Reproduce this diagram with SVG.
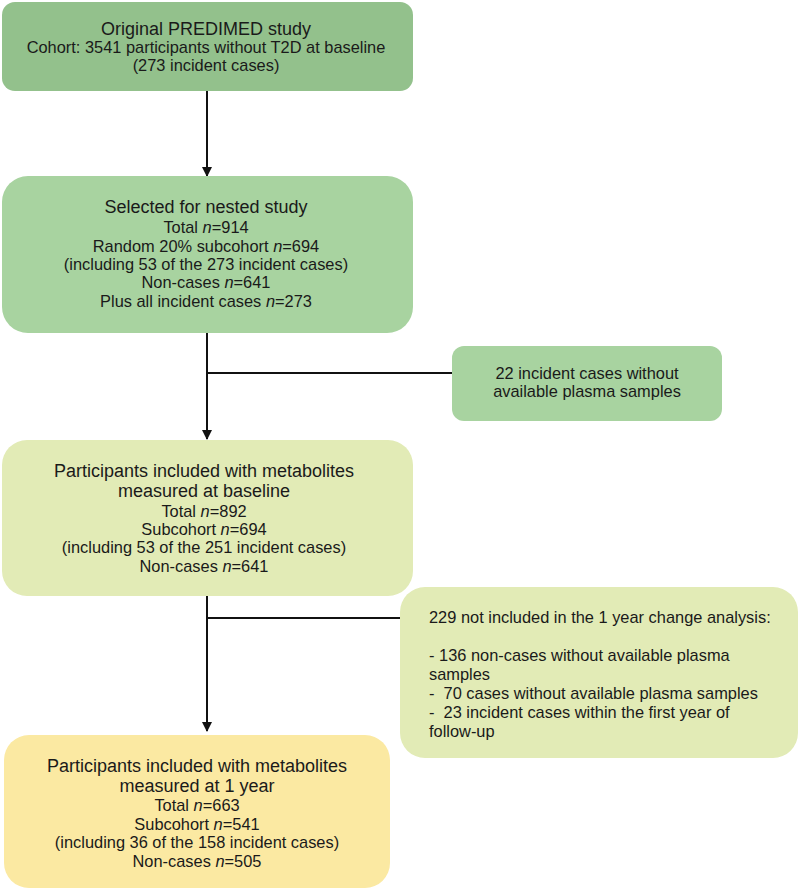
<svg xmlns="http://www.w3.org/2000/svg" width="800" height="890" viewBox="0 0 800 890">
<style>
text{font-family:"Liberation Sans",Arial,sans-serif;fill:#1a1a1a;font-size:16.4px}
.c{text-anchor:middle}
.t{font-size:18px}
.i{font-style:italic}
.dk{fill:#93c18c}
.gr{fill:#a8d3a0}
.yg{fill:#e2ebb6}
.ye{fill:#fbe9a2}
.ln{stroke:#111;stroke-width:2;fill:none}
</style>
<defs>
<marker id="ah" markerUnits="userSpaceOnUse" viewBox="0 0 10 10" refX="9" refY="5" markerWidth="10" markerHeight="10" orient="auto">
<path d="M0,0 L10,5 L0,10 z" fill="#111"/>
</marker>
</defs>
<rect width="800" height="890" fill="#fff"/>
<g id="connectors">
<line class="ln" x1="207" y1="91" x2="207" y2="176" marker-end="url(#ah)"/>
<line class="ln" x1="207" y1="333" x2="207" y2="439" marker-end="url(#ah)"/>
<line class="ln" x1="207" y1="373" x2="452" y2="373"/>
<line class="ln" x1="207" y1="596" x2="207" y2="731" marker-end="url(#ah)"/>
<line class="ln" x1="207" y1="618" x2="400" y2="618"/>
</g>
<g id="n1">
<rect class="dk" x="2" y="2" width="411" height="89" rx="13"/>
<text class="c t" x="206" y="35">Original PREDIMED study</text>
<text class="c" x="206" y="53">Cohort: 3541 participants without T2D at baseline</text>
<text class="c" x="206" y="71">(273 incident cases)</text>
</g>
<g id="n2">
<rect class="gr" x="2" y="176" width="411" height="157" rx="26"/>
<text class="c t" x="206" y="213">Selected for nested study</text>
<text class="c" x="206" y="233">Total <tspan class="i">n</tspan>=914</text>
<text class="c" x="206" y="252">Random 20% subcohort <tspan class="i">n</tspan>=694</text>
<text class="c" x="206" y="270">(including 53 of the 273 incident cases)</text>
<text class="c" x="206" y="288">Non-cases <tspan class="i">n</tspan>=641</text>
<text class="c" x="206" y="307">Plus all incident cases <tspan class="i">n</tspan>=273</text>
</g>
<g id="n3">
<rect class="gr" x="452" y="346" width="270" height="75" rx="12"/>
<text class="c" x="587" y="379">22 incident cases without</text>
<text class="c" x="587" y="397">available plasma samples</text>
</g>
<g id="n4">
<rect class="yg" x="2" y="440" width="411" height="156" rx="25"/>
<text class="c t" x="204" y="477">Participants included with metabolites</text>
<text class="c t" x="204" y="497">measured at baseline</text>
<text class="c" x="204" y="517">Total <tspan class="i">n</tspan>=892</text>
<text class="c" x="204" y="535">Subcohort <tspan class="i">n</tspan>=694</text>
<text class="c" x="204" y="553">(including 53 of the 251 incident cases)</text>
<text class="c" x="204" y="572">Non-cases <tspan class="i">n</tspan>=641</text>
</g>
<g id="n5">
<rect class="yg" x="400" y="587" width="398" height="171" rx="25"/>
<text x="429" y="623">229 not included in the 1 year change analysis:</text>
<text x="429" y="661">- 136 non-cases without available plasma</text>
<text x="429" y="680">samples</text>
<text x="429" y="699" xml:space="preserve">-  70 cases without available plasma samples</text>
<text x="429" y="718" xml:space="preserve">-  23 incident cases within the first year of</text>
<text x="429" y="737">follow-up</text>
</g>
<g id="n6">
<rect class="ye" x="4" y="735" width="386" height="153" rx="25"/>
<text class="c t" x="197" y="772">Participants included with metabolites</text>
<text class="c t" x="197" y="792">measured at 1 year</text>
<text class="c" x="197" y="811">Total <tspan class="i">n</tspan>=663</text>
<text class="c" x="197" y="830">Subcohort <tspan class="i">n</tspan>=541</text>
<text class="c" x="197" y="848">(including 36 of the 158 incident cases)</text>
<text class="c" x="197" y="867">Non-cases <tspan class="i">n</tspan>=505</text>
</g>
</svg>
